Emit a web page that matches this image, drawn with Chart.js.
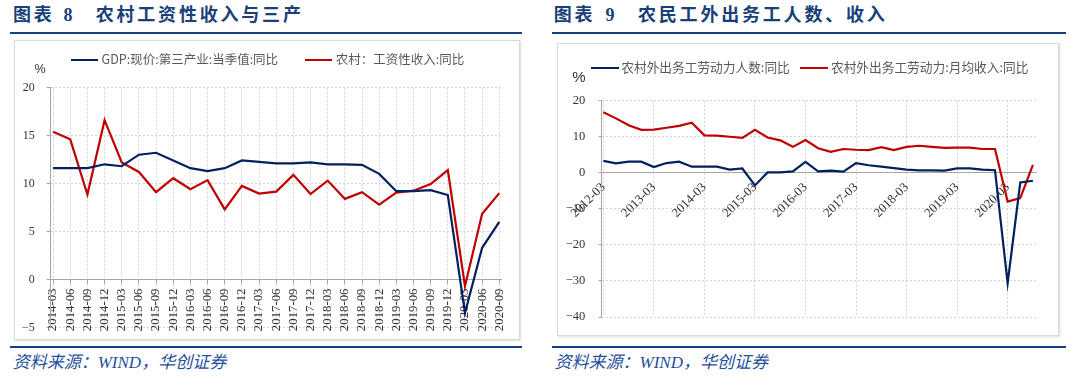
<!DOCTYPE html>
<html><head><meta charset="utf-8">
<script src="https://cdn.jsdelivr.net/npm/chart.js@4.4.0/dist/chart.umd.min.js"></script>
<style>
html,body{margin:0;padding:0;background:#fff;}
body{width:1079px;height:381px;position:relative;overflow:hidden;font-family:"Noto Sans CJK SC",sans-serif;}
.abs{position:absolute;white-space:nowrap;}
.title{font-family:"Liberation Serif","Noto Sans CJK SC",serif;font-weight:bold;font-size:18px;line-height:18px;color:#1b3f78;letter-spacing:2.8px;}
.hline{position:absolute;height:2px;background:#16407f;}
.box{position:absolute;border:1px solid #d9d9d9;box-shadow:1px 1px 2px rgba(0,0,0,0.15);background:#fff;box-sizing:border-box;}
.src{font-family:"Liberation Serif","Noto Sans CJK SC",serif;font-style:italic;font-size:17px;line-height:17px;color:#1f4f9c;}
.leg{font-family:"Noto Sans CJK SC",sans-serif;line-height:1;color:#595959;}
.legline{position:absolute;height:2px;}
.pct{font-family:"Liberation Sans",sans-serif;line-height:1;color:#333;}
canvas{position:absolute;}
</style></head>
<body>
<!-- left panel -->
<div class="abs title" style="left:13px;top:6px;">图表</div>
<div class="abs title" style="left:63.5px;top:6px;">8</div>
<div class="abs title" style="left:95.7px;top:6px;">农村工资性收入与三产</div>
<div class="hline" style="left:10px;top:32.3px;width:512px;"></div>
<div class="box" style="left:13.5px;top:39.5px;width:506px;height:300px;"></div>
<canvas id="c1" width="505" height="299" style="left:14px;top:40px;width:505px;height:299px;"></canvas>
<div class="legline" style="left:70.6px;top:59px;width:27.5px;background:#002060;"></div>
<div class="abs leg" style="left:101.6px;top:53.3px;font-size:12.5px;">GDP:现价:第三产业:当季值:同比</div>
<div class="legline" style="left:304.7px;top:59px;width:27.6px;background:#c00000;"></div>
<div class="abs leg" style="left:335.7px;top:53.3px;font-size:12.5px;">农村：工资性收入:同比</div>
<div class="abs pct" style="left:34.5px;top:63px;font-size:12.5px;">%</div>
<div class="hline" style="left:10px;top:345.7px;width:512px;"></div>
<div class="abs src" style="left:12.7px;top:354px;">资料来源：WIND，华创证券</div>

<!-- right panel -->
<div class="abs title" style="left:553.8px;top:6px;">图表</div>
<div class="abs title" style="left:605.5px;top:6px;">9</div>
<div class="abs title" style="left:638px;top:6px;">农民工外出务工人数、收入</div>
<div class="hline" style="left:552px;top:32.3px;width:514px;"></div>
<div class="box" style="left:556.5px;top:43.3px;width:502.5px;height:293px;"></div>
<canvas id="c2" width="501" height="291" style="left:557px;top:44px;width:501px;height:291px;"></canvas>
<div class="legline" style="left:591px;top:67.3px;width:27.5px;background:#002060;"></div>
<div class="abs leg" style="left:621.3px;top:61.2px;font-size:12.7px;">农村外出务工劳动力人数:同比</div>
<div class="legline" style="left:800px;top:67.3px;width:27.5px;background:#c00000;"></div>
<div class="abs leg" style="left:831px;top:61.2px;font-size:12.7px;">农村外出务工劳动力:月均收入:同比</div>
<div class="abs pct" style="left:572.3px;top:69px;font-size:15px;">%</div>
<div class="hline" style="left:552px;top:345.7px;width:514px;"></div>
<div class="abs src" style="left:554.5px;top:354px;">资料来源：WIND，华创证券</div>

<script>
// ---- Chart 8 data ----
const leftCats = ['2014-03','2014-06','2014-09','2014-12','2015-03','2015-06','2015-09','2015-12',
  '2016-03','2016-06','2016-09','2016-12','2017-03','2017-06','2017-09','2017-12',
  '2018-03','2018-06','2018-09','2018-12','2019-03','2019-06','2019-09','2019-12',
  '2020-03','2020-06','2020-09'];
const gdpTertiary = [11.6, 11.6, 11.6, 12.0, 11.8, 13.0, 13.2, 12.4, 11.6, 11.3, 11.6, 12.4, 12.25, 12.1,
  12.1, 12.2, 12.0, 12.0, 11.95, 11.0, 9.2, 9.2, 9.3, 8.8, -3.5, 3.3, 6.0];
const ruralWage = [15.4, 14.6, 8.85, 16.6, 12.2, 11.2, 9.1, 10.55, 9.4, 10.35, 7.3, 9.75, 8.95, 9.15,
  10.9, 8.9, 10.3, 8.4, 9.1, 7.8, 9.05, 9.25, 9.95, 11.4, -0.7, 6.85, 9.0];
const leftYTicks = [-5, 0, 5, 10, 15, 20];

// ---- Chart 9 data ----
const rightCats = ['2012-03','2012-06','2012-09','2012-12','2013-03','2013-06','2013-09','2013-12',
  '2014-03','2014-06','2014-09','2014-12','2015-03','2015-06','2015-09','2015-12',
  '2016-03','2016-06','2016-09','2016-12','2017-03','2017-06','2017-09','2017-12',
  '2018-03','2018-06','2018-09','2018-12','2019-03','2019-06','2019-09','2019-12',
  '2020-03','2020-06','2020-09'];
const migrantWorkers = [3.3, 2.6, 3.1, 3.1, 1.6, 2.7, 3.1, 1.7, 1.7, 1.7, 0.9, 1.2, -3.5, 0.1, 0.1, 0.4,
  3.0, 0.4, 0.6, 0.3, 2.7, 2.1, 1.7, 1.3, 0.9, 0.7, 0.7, 0.6, 1.2, 1.2, 0.9, 0.7, -30.6, -2.7, -2.2];
const migrantIncome = [16.8, 15.1, 13.2, 11.9, 12.0, 12.5, 13.0, 13.9, 10.4, 10.3, 10.0, 9.7, 11.9, 9.8,
  9.0, 7.2, 9.1, 6.8, 5.8, 6.6, 6.4, 6.3, 7.1, 6.3, 7.2, 7.5, 7.2, 6.9, 7.0, 7.0, 6.6, 6.6, -8.0, -7.0, 2.2];
const rightYTicks = [-40, -30, -20, -10, 0, 10, 20];
const rightXTickIdx = rightCats.map((c, i) => i).filter(i => rightCats[i].endsWith('-03'));

const BLUE = '#002060', RED = '#c00000', GRID = '#d4d4d4', AXIS = '#a6a6a6';
const toXY = arr => arr.map((v, i) => ({x: i, y: v}));
const fmtNum = v => (v < 0 ? '\u2212' + Math.abs(v) : String(v));

function lineDs(label, arr, color) {
  return {label, data: toXY(arr), borderColor: color, backgroundColor: color, borderWidth: 2.2,
    pointRadius: 0, tension: 0, fill: false};
}
function noPad(s) { s.paddingTop = 0; s.paddingBottom = 0; s.paddingLeft = 0; s.paddingRight = 0; }

new Chart(document.getElementById('c1'), {
  type: 'line',
  data: {datasets: [lineDs('GDP:现价:第三产业:当季值:同比', gdpTertiary, BLUE),
                    lineDs('农村：工资性收入:同比', ruralWage, RED)]},
  options: {
    responsive: false, animation: false, devicePixelRatio: 1,
    layout: {padding: {left: 0, top: 47.5, right: 17.3, bottom: 11.5}},
    plugins: {legend: {display: false}, tooltip: {enabled: false}},
    scales: {
      x: {
        type: 'linear', position: {y: 0}, min: -0.14, max: leftCats.length - 1 + 0.14,
        afterBuildTicks: s => { s.ticks = leftCats.map((c, i) => ({value: i})); },
        afterFit: noPad,
        ticks: {autoSkip: false, minRotation: 90, maxRotation: 90, padding: 5, color: '#333',
          font: {family: 'Liberation Serif', size: 12.8},
          callback: v => leftCats[Math.round(v)]},
        grid: {color: GRID, lineWidth: 1, tickLength: 4, tickColor: AXIS, drawTicks: true},
        border: {color: AXIS, width: 1, dash: [2, 2]}
      },
      y: {
        type: 'linear', min: -5, max: 20,
        afterBuildTicks: s => { s.ticks = leftYTicks.map(v => ({value: v})); },
        afterFit: s => { s.width = 36.7; noPad(s); },
        ticks: {padding: 12, color: '#333', font: {family: 'Liberation Serif', size: 12}, callback: fmtNum},
        grid: {color: GRID, lineWidth: 1, tickLength: 4, tickColor: AXIS},
        border: {color: AXIS, width: 1, dash: [2, 2]}
      }
    }
  }
});

new Chart(document.getElementById('c2'), {
  type: 'line',
  data: {datasets: [lineDs('农村外出务工劳动力人数:同比', migrantWorkers, BLUE),
                    lineDs('农村外出务工劳动力:月均收入:同比', migrantIncome, RED)]},
  options: {
    responsive: false, animation: false, devicePixelRatio: 1,
    layout: {padding: {left: 0, top: 56.7, right: 21.3, bottom: 18}},
    plugins: {legend: {display: false}, tooltip: {enabled: false}},
    scales: {
      x: {
        type: 'linear', position: {y: 0}, min: -0.13, max: rightCats.length - 1 + 0.3,
        afterBuildTicks: s => { s.ticks = rightXTickIdx.map(i => ({value: i})); },
        afterFit: noPad,
        ticks: {autoSkip: false, minRotation: 45, maxRotation: 45, padding: 7, color: '#333',
          font: {family: 'Liberation Serif', size: 12.8},
          callback: v => rightCats[Math.round(v)]},
        grid: {color: GRID, lineWidth: 1, drawTicks: false},
        border: {color: AXIS, width: 1, dash: [2, 2]}
      },
      y: {
        type: 'linear', min: -40, max: 20,
        afterBuildTicks: s => { s.ticks = rightYTicks.map(v => ({value: v})); },
        afterFit: s => { s.width = 44.7; noPad(s); },
        ticks: {padding: 13.5, color: '#333', font: {family: 'Liberation Serif', size: 12.5}, callback: fmtNum},
        grid: {color: GRID, lineWidth: 1, tickLength: 3, tickColor: AXIS},
        border: {color: AXIS, width: 1, dash: [2, 2]}
      }
    }
  }
});
</script>
</body></html>
